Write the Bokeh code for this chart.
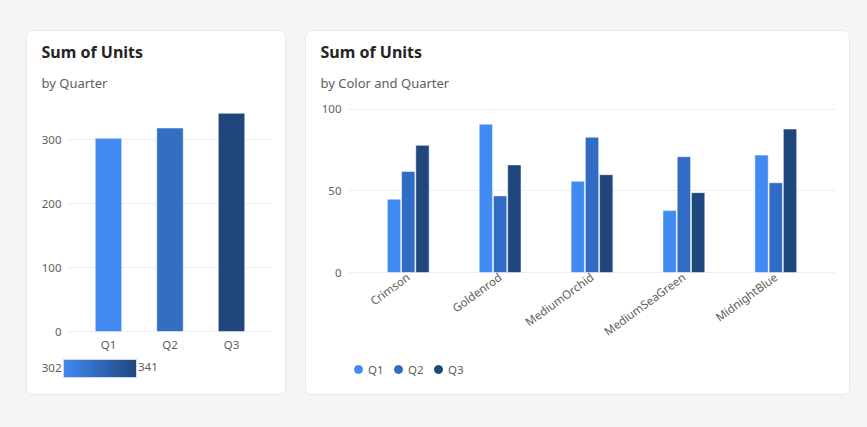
import math
import numpy as np
from bokeh.plotting import figure
from bokeh.layouts import row
from bokeh.models import (ColumnDataSource, FactorRange, Range1d, Title, Legend, LegendItem,
                          LinearColorMapper, ColorBar, FixedTicker, LinearAxis,
                          GlobalInlineStyleSheet)
from bokeh.transform import dodge, linear_cmap
from bokeh.embed import file_html
from bokeh.resources import INLINE

# data
quarters = ["Q1", "Q2", "Q3"]
quarter_units = [302, 318, 341]
color_names = ["Crimson", "Goldenrod", "MediumOrchid", "MediumSeaGreen", "MidnightBlue"]
q1_units = [45, 91, 56, 38, 72]
q2_units = [62, 47, 83, 71, 55]
q3_units = [78, 66, 60, 49, 88]

FONT = "Noto Sans"
LIGHT, MID, DARK = "#418af4", "#306cc4", "#1f477e"
TEXT = "#605e5c"
GRID = "#efefef"
CARD = {"border-radius": "6px", "box-shadow": "0 0 0 1px #e9e9e9", "overflow": "hidden",
        "background-color": "white"}
# both cards share the same frame (bokeh aligns frames in a row); everything
# below the zero lines is drawn inside the frames
CARD_H, TOP, BOTTOM = 363, 69, 8


def blend(c0, c1, n):
    a = np.array([int(c0[i:i + 2], 16) for i in (1, 3, 5)])
    b = np.array([int(c1[i:i + 2], 16) for i in (1, 3, 5)])
    return ["#%02x%02x%02x" % tuple(np.round(a + (b - a) * t).astype(int)) for t in np.linspace(0, 1, n)]


gradient = blend(LIGHT, DARK, 256)


def add_titles(p, title, subtitle, shift):
    p.add_layout(Title(text=subtitle, align="left", offset=shift, standoff=18, text_font=FONT,
                       text_font_size="13px", text_font_style="normal", text_color=TEXT), "above")
    p.add_layout(Title(text=title, align="left", offset=shift, standoff=0, text_font=FONT,
                       text_font_size="16px", text_font_style="bold", text_color="#252423"), "above")


def style_axis(ax, standoff):
    ax.axis_line_color = None
    ax.major_tick_line_color = None
    ax.minor_tick_line_color = None
    ax.major_tick_out = 0
    ax.major_label_standoff = standoff
    ax.major_label_text_font = FONT
    ax.major_label_text_font_size = "11.5px"
    ax.major_label_text_color = TEXT


def card(width, x_range, y_range, left):
    return figure(width=width, height=CARD_H, toolbar_location=None, output_backend="svg",
                  x_range=x_range, y_range=y_range, min_border_left=left, min_border_right=14,
                  min_border_top=TOP, min_border_bottom=BOTTOM, border_fill_color="white",
                  outline_line_color=None, styles=CARD)


# left card: total by quarter
slots = list(range(len(quarters)))
p1 = card(258, Range1d(-0.65, len(quarters) - 0.35), Range1d(-85.9, 361), 41)
add_titles(p1, "Sum of Units", "by Quarter", -27)
src1 = ColumnDataSource(dict(slot=slots, quarter=quarters, units=quarter_units))
lo, hi = min(quarter_units), max(quarter_units)
p1.vbar(x="slot", top="units", width=0.43, source=src1,
        fill_color=linear_cmap("units", gradient, lo, hi), line_color="white", line_alpha=0.5)
p1.xgrid.grid_line_color = None
p1.ygrid.grid_line_color = GRID
y_ticks = [0, 100, 200, 300]
legend_row = -57   # y level of the gradient legend, in units of the left chart
p1.ygrid.ticker = FixedTicker(ticks=y_ticks)
p1.yaxis.ticker = FixedTicker(ticks=y_ticks + [legend_row])
p1.yaxis.major_label_overrides = {legend_row: str(lo)}   # min label left of the bar
p1.xaxis.ticker = FixedTicker(ticks=slots)
p1.xaxis.major_label_overrides = dict(zip(slots, quarters))
p1.xaxis.fixed_location = 0
style_axis(p1.yaxis[0], 7)
style_axis(p1.xaxis[0], 5)

# gradient legend: colour bar plus an axis that prints the max beside it
cbar = ColorBar(color_mapper=LinearColorMapper(palette=gradient, low=lo, high=hi),
                orientation="horizontal", location=(-5, 9), width=73, height=18, padding=0,
                margin=0, ticker=FixedTicker(ticks=[]), major_tick_line_color=None,
                major_label_text_font_size="0px", bar_line_color="#c9d9f5",
                border_line_color=None, background_fill_alpha=0)
p1.add_layout(cbar)
lab_l, lab_r = 23.9 - 41, 120.4 - 41   # label centres, px from the frame's left edge
s = (lab_r - lab_l) / (hi - lo)
start = lo - lab_l / s
p1.extra_x_ranges = {"scale": Range1d(start, start + 203 / s)}
scale_axis = LinearAxis(x_range_name="scale", ticker=FixedTicker(ticks=[hi]),
                        fixed_location=-41.4)
style_axis(scale_axis, 5)
p1.add_layout(scale_axis, "below")

# right card: by color and quarter
p2 = card(543, FactorRange(*color_names, range_padding=0.15, range_padding_units="absolute"),
          Range1d(-69.9, 105.5), 42)
add_titles(p2, "Sum of Units", "by Color and Quarter", -28)
src2 = ColumnDataSource(dict(color=color_names, Q1=q1_units, Q2=q2_units, Q3=q3_units))
items = []
for q, off, c in zip(quarters, [-0.155, 0, 0.155], [LIGHT, MID, DARK]):
    x = dodge("color", off, range=p2.x_range)
    p2.vbar(x=x, top=q, width=0.145, source=src2,
            fill_color=c, line_color="white", line_alpha=0.5)
    # zero-size dots, only there to give the legend round swatches
    dot = p2.scatter(x=x, y=q, source=src2, size=0, marker="circle", color=c)
    items.append(LegendItem(label=q, renderers=[dot]))
p2.xgrid.grid_line_color = None
p2.ygrid.grid_line_color = GRID
p2.yaxis.ticker = [0, 50, 100]
p2.xaxis.fixed_location = 0
p2.xaxis.major_label_orientation = math.radians(36)
style_axis(p2.yaxis[0], 7)
style_axis(p2.xaxis[0], 3)

legend = Legend(items=items, orientation="horizontal", location=(0, 7), glyph_width=20,
                glyph_height=20, label_standoff=0, spacing=0, padding=0, margin=0,
                border_line_color=None, background_fill_alpha=0, label_text_font=FONT,
                label_text_font_size="11.5px", label_text_color=TEXT)
p2.add_layout(legend)

page = row(p1, p2, spacing=21, margin=(31, 0, 0, 27),
           stylesheets=[GlobalInlineStyleSheet(css="body { background-color: #f5f5f5; }")])

open("out.html", "w").write(file_html(page, INLINE))
